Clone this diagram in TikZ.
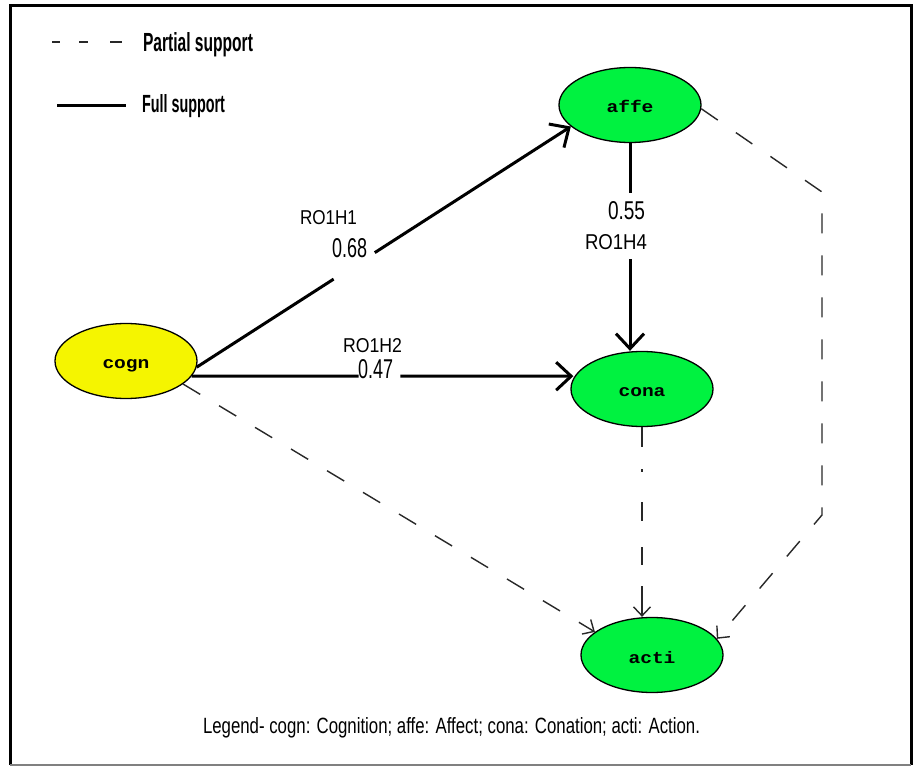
\documentclass[tikz,border=0pt]{standalone}
\usepackage{fontspec}
\usepackage{graphicx}
\setmainfont{Liberation Sans}
\newfontfamily\labelmono{Liberation Mono}
\usetikzlibrary{shapes.geometric,arrows.meta,calc}

\definecolor{nodegreen}{RGB}{0,242,64}
\definecolor{nodeyellow}{RGB}{245,245,0}
\definecolor{partialgray}{RGB}{40,40,40}

% text squeezed into a given width and height (in pt)
\newcommand{\fitto}[3]{\resizebox{#1pt}{#2pt}{#3}}
% construct abbreviation, baseline set a little below the ellipse centre
\newcommand{\innertext}[1]{\raisebox{-8pt}[0pt][0pt]{\scalebox{1}[0.85]{\resizebox{47pt}{!}{\labelmono\bfseries #1}}}}

\tikzset{
  construct/.style={ellipse, draw=black, line width=1.3pt, minimum width=142pt,
                    minimum height=75pt, inner sep=0pt},
  fullsup/.style={draw=black, line width=3pt},
  fulltip/.style={-{Straight Barb[length=15pt,width=28pt]}},
  partial/.style={draw=partialgray, line width=1.4pt, dash pattern=on 20pt off 22pt},
  partialtip/.style={-{Straight Barb[length=9pt,width=17pt]}},
  lbltext/.style={anchor=base west, inner sep=0pt, outer sep=0pt}
}

\begin{document}
\begin{tikzpicture}[x=1pt,y=-1pt]
\useasboundingbox (0,0) rectangle (914,767);
\fill[white] (0,0) rectangle (914,767);

% frame
\draw[black, line width=3pt] (10,765) -- (10,6) -- (911,6) -- (911,765);
\draw[gray, line width=1.5pt] (10,765) -- (911,765);

% legend of line styles
\coordinate (partA) at (52,42);
\coordinate (partB) at (122,42);
\draw[partial, dash pattern=on 8pt off 19pt on 9pt off 22pt on 12pt] (partA) -- (partB);
\node[lbltext] (legPartial) at (143,52) {\fitto{110}{19}{\bfseries Partial support}};
\coordinate (fullA) at (57,106);
\coordinate (fullB) at (126,106);
\draw[fullsup] (fullA) -- (fullB);
\node[lbltext] (legFull) at (142,113) {\fitto{83}{18}{\bfseries Full support}};

% constructs
\node[construct, fill=nodeyellow] (cogn) at (126,361) {\innertext{cogn}};
\node[construct, fill=nodegreen]  (affe) at (630,105) {\innertext{affe}};
\node[construct, fill=nodegreen]  (cona) at (642,389) {\innertext{cona}};
\node[construct, fill=nodegreen]  (acti) at (652,655) {\innertext{acti}};

% full support paths (broken where the coefficient sits)
\coordinate (h1s) at (cogn.-5);
\coordinate (h1e) at (affe.200);
\draw[fullsup] (h1s) -- ($(h1s)!0.366!(h1e)$);
\draw[fullsup, fulltip] ($(h1s)!0.476!(h1e)$) -- (h1e);

\coordinate (h2s) at (cogn.-13);
\coordinate (h2e) at ([xshift=3pt]cogn.-13 -| cona.west);
\draw[fullsup] (h2s) -- ($(h2s)!0.437!(h2e)$);
\draw[fullsup, fulltip] ($(h2s)!0.547!(h2e)$) -- (h2e);

\coordinate (h4s) at (affe.south);
\coordinate (h4e) at (affe.south |- cona.north);
\draw[fullsup] (h4s) -- ($(h4s)!0.24!(h4e)$);
\draw[fullsup, fulltip] ($(h4s)!0.56!(h4e)$) -- (h4e);

% coefficients and hypothesis labels
\node[lbltext] (lblH1) at (300,225) {\fitto{57}{14}{RO1H1}};
\node[lbltext] (val068) at (332,258) {\fitto{35}{19}{0.68}};
\node[lbltext] (lblH2) at (343,353) {\fitto{59}{14}{RO1H2}};
\node[lbltext] (val047) at (358,379) {\fitto{35}{19}{0.47}};
\node[lbltext] (val055) at (608,220) {\fitto{37}{18}{0.55}};
\node[lbltext] (lblH4) at (585,250) {\fitto{62}{15}{RO1H4}};

% partial support paths
\draw[partial, partialtip] (cogn.-22) -- (acti.158);
\coordinate (bendTop) at (822,192);
\coordinate (bendBot) at (822,515);
\draw[partial, partialtip] (affe.-3) -- (bendTop) -- (bendBot) -- (acti.14);
\draw[partial, partialtip,
      dash pattern=on 20pt off 22pt on 3pt off 30pt on 19pt off 26pt on 18pt off 21pt on 40pt]
  (cona.south) -- (cona.south |- acti.north);

% abbreviations
\node[lbltext] (legend) at (203,733)
  {\fitto{497}{16}{Legend- cogn: Cognition; affe: Affect; cona: Conation; acti: Action.}};
\end{tikzpicture}
\end{document}
